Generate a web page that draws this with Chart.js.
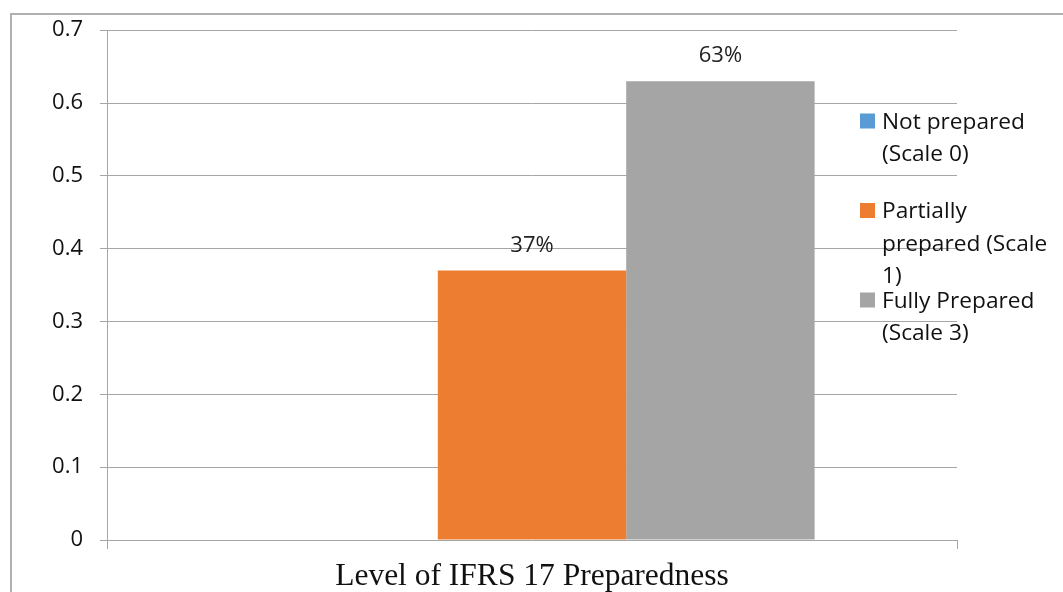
<!DOCTYPE html>
<html>
<head>
<meta charset="utf-8">
<script src="https://cdn.jsdelivr.net/npm/chart.js@4/dist/chart.umd.min.js"></script>
<style>
  html, body { margin: 0; padding: 0; background: #fff; }
  #wrap { position: relative; width: 1063px; height: 592px; }
</style>
</head>
<body>
<div id="wrap"><canvas id="c" width="1063" height="592"></canvas></div>
<script>
const categories = ["Level of IFRS 17 Preparedness"];
const seriesNames = ["Not prepared (Scale 0)", "Partially prepared (Scale 1)", "Fully Prepared (Scale 3)"];
const legendLines = [["Not prepared", "(Scale 0)"], ["Partially", "prepared (Scale", "1)"], ["Fully Prepared", "(Scale 3)"]];
const notPrepared = [0];
const partiallyPrepared = [0.37];
const fullyPrepared = [0.63];
const yTicks = [0, 0.1, 0.2, 0.3, 0.4, 0.5, 0.6, 0.7];
const colors = ["#5b9bd5", "#ed7d31", "#a5a5a5"];

const SANS = "'Open Sans', sans-serif";
const GRID = "#a6a6a6";

const borderPlugin = {
  id: "outerBorder",
  beforeDraw(chart) {
    const ctx = chart.ctx;
    ctx.save();
    ctx.strokeStyle = "#b0b0b0";
    ctx.lineWidth = 2;
    ctx.strokeRect(11, 14, 1063, 600);
    ctx.restore();
  }
};

const dataLabelPlugin = {
  id: "dataLabels",
  afterDatasetsDraw(chart) {
    const ctx = chart.ctx;
    ctx.save();
    ctx.font = "22px " + SANS;
    ctx.fillStyle = "#222";
    ctx.textAlign = "center";
    ctx.textBaseline = "middle";
    chart.data.datasets.forEach((ds, i) => {
      const meta = chart.getDatasetMeta(i);
      meta.data.forEach((bar, j) => {
        const v = ds.data[j];
        if (!v) return;
        ctx.fillText(Math.round(v * 100) + "%", bar.x, bar.y - 25);
      });
    });
    ctx.restore();
  }
};

const legendPlugin = {
  id: "sideLegend",
  afterDraw(chart) {
    const ctx = chart.ctx;
    ctx.save();
    ctx.font = "22.7px " + SANS;
    ctx.fillStyle = "#111";
    ctx.textAlign = "left";
    ctx.textBaseline = "middle";
    const startY = 121, itemGap = 89.5, lineH = 32.5;
    chart.data.datasets.forEach((ds, i) => {
      const y0 = startY + i * itemGap;
      ctx.fillStyle = ds.backgroundColor;
      ctx.fillRect(860, y0 - 7.5, 15, 15);
      ctx.fillStyle = "#111";
      legendLines[i].forEach((ln, k) => ctx.fillText(ln, 882, y0 + 1.5 + k * lineH));
    });
    ctx.restore();
  }
};

new Chart(document.getElementById("c"), {
  type: "bar",
  data: {
    labels: categories,
    datasets: [
      { label: seriesNames[0], data: notPrepared, backgroundColor: colors[0] },
      { label: seriesNames[1], data: partiallyPrepared, backgroundColor: colors[1] },
      { label: seriesNames[2], data: fullyPrepared, backgroundColor: colors[2] }
    ]
  },
  options: {
    responsive: false,
    animation: false,
    devicePixelRatio: 1,
    layout: { padding: { left: 0, right: 106, top: 30, bottom: 0 } },
    datasets: { bar: { categoryPercentage: 0.665, barPercentage: 1 } },
    plugins: { legend: { display: false }, tooltip: { enabled: false } },
    scales: {
      x: {
        afterFit(s) { s.height = 52; },
        grid: { offset: true, drawOnChartArea: false, drawTicks: true, tickLength: 9, color: GRID },
        border: { display: false },
        ticks: { color: "#111", font: { family: "'Liberation Serif', 'Times New Roman', serif", size: 31.5 }, padding: 9 }
      },
      y: {
        min: 0, max: 0.7,
        afterFit(s) { s.width = 107; },
        afterBuildTicks(s) { s.ticks = yTicks.map(v => ({ value: v })); },
        grid: { color: GRID, tickLength: 7, lineWidth: 1 },
        border: { display: true, color: GRID },
        ticks: { color: "#111", font: { family: SANS, size: 22 }, padding: 17,
                 callback: v => String(Math.round(v * 10) / 10) }
      }
    }
  },
  plugins: [borderPlugin, dataLabelPlugin, legendPlugin]
});
</script>
</body>
</html>
